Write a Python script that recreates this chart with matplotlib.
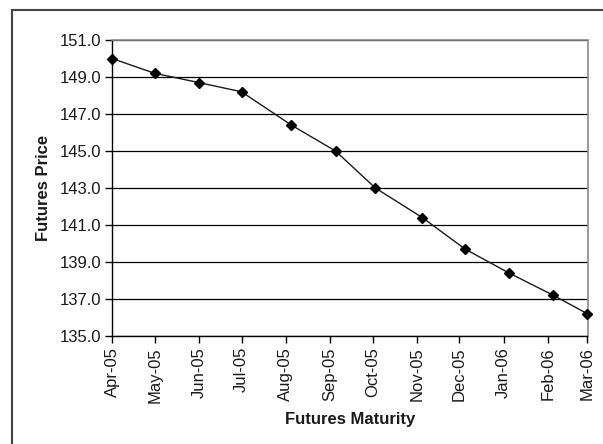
import matplotlib
matplotlib.use("Agg")
import matplotlib.pyplot as plt
import matplotlib.dates as mdates
from matplotlib.patches import Rectangle
from matplotlib.ticker import FixedLocator, FormatStrFormatter
import numpy as np

# Data
maturity_dates = ["2005-04-01", "2005-05-01", "2005-06-01", "2005-07-01",
                  "2005-08-05", "2005-09-05", "2005-10-03", "2005-11-05",
                  "2005-12-05", "2006-01-05", "2006-02-05", "2006-03-01"]
futures_price = [150.0, 149.2, 148.7, 148.2, 146.4, 145.0,
                 143.0, 141.4, 139.7, 138.4, 137.2, 136.2]
y_ticks = [135.0, 137.0, 139.0, 141.0, 143.0, 145.0, 147.0, 149.0, 151.0]
x_start, x_end = "2005-04-01", "2006-03-01"

plt.rcParams['font.family'] = ['Liberation Sans', 'DejaVu Sans']

fig = plt.figure(figsize=(6.03, 4.44), dpi=100)
fig.patch.set_facecolor('white')

# outer frame (extends past right/bottom edges)
frame = Rectangle((12 / 603, -0.1), 1.2, 1 - 10 / 444 + 0.1, transform=fig.transFigure,
                  fill=False, edgecolor='#444444', linewidth=1.5, clip_on=False)
fig.patches.append(frame)

ax = fig.add_axes([112 / 603, 1 - 336 / 444, (587.5 - 112) / 603, (336 - 40) / 444])

x = mdates.date2num(np.array(maturity_dates, dtype='datetime64[D]'))

ax.plot(x, futures_price, color='#1a1a1a', linewidth=1.0, marker='D',
        markersize=4.6, markerfacecolor='black', markeredgecolor='black',
        clip_on=False, zorder=3)

ax.set_xlim(mdates.date2num(np.datetime64(x_start)), mdates.date2num(np.datetime64(x_end)))
ax.set_ylim(y_ticks[0], y_ticks[-1])

ax.yaxis.set_major_locator(FixedLocator(y_ticks))
ax.yaxis.set_major_formatter(FormatStrFormatter('%.1f'))
ax.xaxis.set_major_locator(mdates.MonthLocator())
ax.xaxis.set_major_formatter(mdates.DateFormatter('%b-%y'))

ax.grid(axis='y', color='black', linewidth=0.9)
ax.set_axisbelow(True)

for side in ['top', 'right']:
    ax.spines[side].set_color('#8a8a8a')
    ax.spines[side].set_linewidth(1.2)
for side in ['left', 'bottom']:
    ax.spines[side].set_color('black')
    ax.spines[side].set_linewidth(1.0)

ax.tick_params(axis='y', direction='out', length=5, width=1.0, labelsize=12,
               pad=3, colors='black', labelcolor='#1a1a1a')
ax.tick_params(axis='x', direction='out', length=5, width=1.0, labelsize=12,
               pad=3, labelrotation=90, colors='black', labelcolor='#1a1a1a')

ax.set_xlabel('Futures Maturity', fontsize=12, fontweight='bold', labelpad=7, color='#1a1a1a')
ax.set_ylabel('Futures Price', fontsize=12, fontweight='bold', labelpad=6, color='#1a1a1a')

fig.savefig('out.png', dpi=100, facecolor='white')
